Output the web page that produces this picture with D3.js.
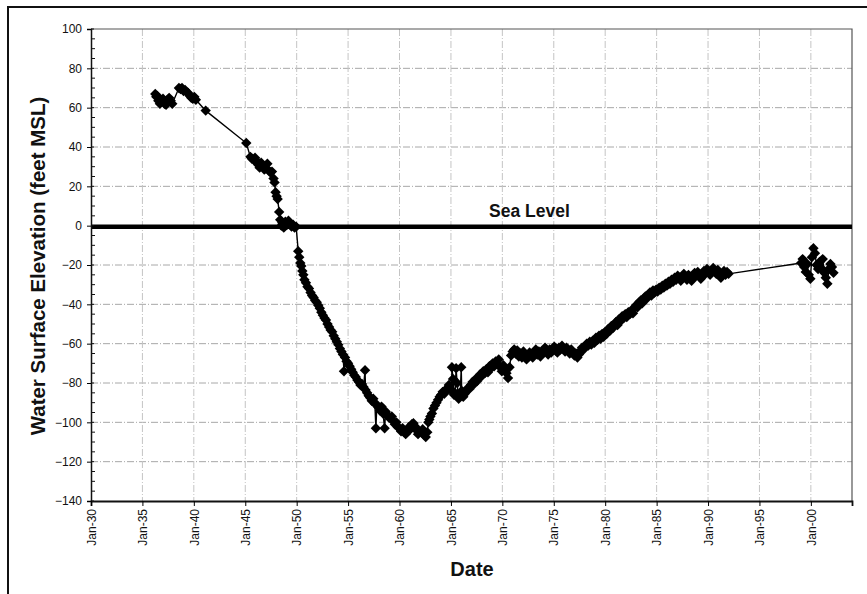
<!DOCTYPE html>
<html>
<head>
<meta charset="utf-8">
<script src="https://cdn.jsdelivr.net/npm/d3@7"></script>
<style>
  body { margin: 0; background: #fff; }
  svg { display: block; font-family: "Liberation Sans", Arial, sans-serif; }
</style>
</head>
<body>
<svg id="chart" width="867" height="594"></svg>
<script>
// water level readings: [decimal year, feet MSL]
var wells1936 = [
  [1936.25, 67], [1936.35, 65.5], [1936.45, 66], [1936.55, 63.5], [1936.7, 62], [1936.85, 63],
  [1937.0, 64.5], [1937.15, 62], [1937.3, 61.5], [1937.45, 64], [1937.6, 65], [1937.75, 63.5],
  [1937.9, 62], [1938.55, 70], [1938.7, 69.5], [1938.85, 70], [1939.0, 68.5], [1939.15, 69],
  [1939.3, 68], [1939.45, 67.5], [1939.6, 66], [1939.75, 65], [1939.9, 64.5], [1940.05, 65.5],
  [1940.2, 64], [1941.15, 58.5]
];
var wells1945 = [
  [1945.1, 42], [1945.5, 35], [1945.65, 34], [1945.8, 33.5], [1945.95, 34.5], [1946.1, 33],
  [1946.25, 31], [1946.4, 29.5], [1946.55, 32], [1946.7, 30], [1946.85, 28.5], [1947.0, 29],
  [1947.15, 31.5], [1947.3, 28], [1947.45, 27], [1947.6, 27.5], [1947.75, 24], [1947.85, 22],
  [1947.95, 17], [1948.05, 15], [1948.15, 13.5], [1948.3, 7], [1948.4, 3], [1948.5, 0],
  [1948.6, 1.5], [1948.75, -1], [1948.9, 2], [1949.05, 0.5], [1949.2, 2.5], [1949.35, 1],
  [1949.5, -0.5], [1949.65, 0.5], [1949.8, -1], [1949.95, -0.5]
];
var wells1950 = [
  [1950.15, -13], [1950.25, -16], [1950.35, -19], [1950.45, -20.5], [1950.55, -23], [1950.65, -25],
  [1950.75, -27.5], [1950.9, -29], [1951.05, -31], [1951.2, -32], [1951.35, -34], [1951.5, -35.5],
  [1951.65, -36.5], [1951.8, -38], [1951.95, -39], [1952.1, -40.5], [1952.25, -42], [1952.4, -44],
  [1952.55, -45.5], [1952.7, -47], [1952.85, -48], [1953.0, -50], [1953.15, -51.5], [1953.3, -53],
  [1953.45, -54], [1953.6, -56], [1953.75, -57.5], [1953.9, -59], [1954.05, -60.5], [1954.2, -62.5],
  [1954.35, -64], [1954.5, -65.5], [1954.6, -74], [1954.7, -67], [1954.85, -69], [1955.0, -70],
  [1955.15, -71.5], [1955.3, -73], [1955.45, -74.5], [1955.6, -76], [1955.75, -77], [1955.9, -78.5],
  [1956.05, -79.5], [1956.2, -81], [1956.35, -80.5], [1956.5, -82], [1956.65, -73.5], [1956.7, -83.5],
  [1956.85, -85], [1957.0, -86.5], [1957.15, -87.5], [1957.3, -89], [1957.45, -88], [1957.6, -90.5],
  [1957.7, -103], [1957.8, -91], [1957.95, -92.5], [1958.1, -94], [1958.25, -92], [1958.4, -95.5],
  [1958.55, -103], [1958.65, -94.5], [1958.8, -96], [1958.95, -97.5], [1959.1, -98], [1959.25, -97],
  [1959.4, -99.5], [1959.55, -101], [1959.7, -100], [1959.85, -102.5], [1960.0, -103], [1960.15, -104.5],
  [1960.3, -103], [1960.45, -105], [1960.6, -106], [1960.75, -104], [1960.9, -102.5], [1961.05, -103.5],
  [1961.2, -101], [1961.35, -100.5], [1961.5, -102], [1961.65, -104], [1961.8, -106], [1961.95, -104.5],
  [1962.1, -105], [1962.25, -103.5], [1962.4, -106.5], [1962.55, -107.5], [1962.7, -105], [1962.8, -100]
];
var wells1963 = [
  [1962.9, -98.5], [1963.0, -97], [1963.15, -95.5], [1963.3, -93], [1963.45, -91.5], [1963.6, -90],
  [1963.75, -88.5], [1963.9, -87], [1964.05, -86], [1964.2, -84.5], [1964.35, -85.5], [1964.5, -84],
  [1964.65, -82.5], [1964.8, -81], [1964.95, -83], [1965.05, -84], [1965.1, -72], [1965.2, -78],
  [1965.3, -86], [1965.4, -85], [1965.5, -72.5], [1965.6, -80], [1965.75, -88], [1965.9, -86.5],
  [1966.0, -72], [1966.05, -84], [1966.2, -87], [1966.35, -85.5], [1966.5, -84], [1966.65, -82.5],
  [1966.8, -83], [1966.95, -81], [1967.1, -79.5], [1967.25, -80.5], [1967.4, -78], [1967.55, -79],
  [1967.7, -77], [1967.85, -75.5], [1968.0, -76.5], [1968.15, -74], [1968.3, -75], [1968.45, -73],
  [1968.6, -74.5], [1968.75, -71.5], [1968.9, -72.5], [1969.05, -70], [1969.2, -71.5], [1969.35, -69],
  [1969.5, -70.5], [1969.65, -68], [1969.8, -72], [1969.95, -74], [1970.1, -71], [1970.25, -73.5],
  [1970.4, -75], [1970.55, -77.5], [1970.7, -72], [1970.85, -66], [1971.0, -64], [1971.15, -63],
  [1971.3, -65], [1971.45, -63.5], [1971.6, -66.5], [1971.75, -65], [1971.9, -67], [1972.05, -64],
  [1972.2, -66], [1972.35, -68], [1972.5, -66.5], [1972.65, -64.5], [1972.8, -65.5], [1972.95, -67],
  [1973.1, -65], [1973.25, -63], [1973.4, -65.5], [1973.55, -64], [1973.7, -66.5], [1973.85, -65],
  [1974.0, -63.5], [1974.15, -62], [1974.3, -64], [1974.45, -65.5], [1974.6, -63], [1974.75, -64.5],
  [1974.9, -62.5], [1975.05, -61.5], [1975.2, -63.5], [1975.35, -64.5], [1975.5, -62], [1975.65, -63],
  [1975.8, -61], [1975.95, -62.5], [1976.1, -64], [1976.25, -62], [1976.4, -63.5], [1976.55, -65],
  [1976.7, -63], [1976.85, -64.5], [1977.0, -66], [1977.15, -65], [1977.3, -67], [1977.45, -65.5],
  [1977.6, -63.5], [1977.75, -62], [1977.9, -63], [1978.05, -61.5], [1978.2, -60], [1978.35, -61],
  [1978.5, -59], [1978.65, -60.5], [1978.8, -58.5], [1978.95, -59.5], [1979.1, -57], [1979.25, -58],
  [1979.4, -56], [1979.55, -57.5], [1979.7, -55], [1979.85, -56.5]
];
var wells1980 = [
  [1980.0, -54], [1980.15, -55], [1980.3, -52.5], [1980.45, -53.5], [1980.6, -51], [1980.75, -52],
  [1980.9, -50], [1981.05, -49], [1981.2, -50.5], [1981.35, -47.5], [1981.5, -48.5], [1981.65, -46],
  [1981.8, -47], [1981.95, -45], [1982.1, -46.5], [1982.25, -44], [1982.4, -45], [1982.55, -43],
  [1982.7, -44.5], [1982.85, -42], [1983.0, -40.5], [1983.15, -41.5], [1983.3, -39], [1983.45, -38],
  [1983.6, -39.5], [1983.75, -37], [1983.9, -36], [1984.05, -37], [1984.2, -35], [1984.35, -34],
  [1984.5, -35.5], [1984.65, -33], [1984.8, -34], [1984.95, -32.5], [1985.1, -33.5], [1985.25, -31.5],
  [1985.4, -32.5], [1985.55, -30.5], [1985.7, -31.5], [1985.85, -29.5], [1986.0, -30.5], [1986.15, -28.5],
  [1986.3, -29.5], [1986.45, -27.5], [1986.6, -28.5], [1986.75, -26.5], [1986.9, -27.5], [1987.05, -25.5],
  [1987.2, -26.5], [1987.35, -28], [1987.5, -26], [1987.65, -24.5], [1987.8, -26], [1987.95, -27.5],
  [1988.1, -25], [1988.25, -26.5], [1988.4, -28], [1988.55, -26], [1988.7, -24], [1988.85, -25.5],
  [1989.0, -23.5], [1989.15, -25], [1989.3, -27], [1989.45, -25.5], [1989.6, -23], [1989.75, -24.5],
  [1989.9, -22], [1990.05, -23.5], [1990.2, -25], [1990.35, -23], [1990.5, -21.5], [1990.65, -23],
  [1990.8, -24.5], [1990.95, -22.5], [1991.1, -24], [1991.25, -26.5], [1991.4, -24.5], [1991.55, -23],
  [1991.7, -25], [1991.85, -23.5], [1992.0, -24.5]
];
var wells1999 = [
  [1999.05, -19], [1999.2, -17], [1999.35, -21], [1999.5, -23.5], [1999.65, -19.5], [1999.8, -25],
  [1999.95, -27], [2000.1, -16], [2000.25, -11.5], [2000.4, -14], [2000.55, -20], [2000.7, -22],
  [2000.85, -18.5], [2001.0, -21.5], [2001.15, -17], [2001.3, -24], [2001.45, -26.5], [2001.6, -29.5],
  [2001.75, -22], [2001.9, -19.5], [2002.05, -21], [2002.2, -24]
];
var seaLevel = 0;
var yTicks = [-140, -120, -100, -80, -60, -40, -20, 0, 20, 40, 60, 80, 100];
var xStart = 1930, xEnd = 2004;

var allData = [].concat(wells1936, wells1945, wells1950, wells1963, wells1980, wells1999);

// decimal year -> Date
function toDate(t) {
    var yr = Math.floor(t);
    var d = new Date(yr, 0, 1);
    d.setDate(1 + Math.round((t - yr) * 365));
    return d;
}

var plotL = 91, plotR = 852, plotT = 29, plotB = 501;
var svg = d3.select("#chart");

var x = d3.scaleTime().domain([new Date(xStart, 0, 1), new Date(xEnd, 0, 1)]).range([plotL, plotR]);
var y = d3.scaleLinear().domain([-140, 100]).range([plotB, plotT]);

// outer frame
svg.append("rect").attr("x", 8).attr("y", 7).attr("width", 880).attr("height", 620)
    .attr("fill", "none").attr("stroke", "#111").attr("stroke-width", 2);

// grid
var xTicks = d3.timeYear.every(5).range(new Date(xStart, 0, 1), new Date(xEnd, 0, 1));
svg.append("g").selectAll("line").data(yTicks.filter(function (d) { return d > -140 && d < 100; }))
    .enter().append("line")
    .attr("x1", plotL).attr("x2", plotR)
    .attr("y1", function (d) { return y(d); }).attr("y2", function (d) { return y(d); })
    .attr("stroke", "#a8a8a8").attr("stroke-width", 1).attr("stroke-dasharray", "7,2,1,2");
svg.append("g").selectAll("line").data(xTicks.slice(1))
    .enter().append("line")
    .attr("x1", function (d) { return x(d); }).attr("x2", function (d) { return x(d); })
    .attr("y1", plotT).attr("y2", plotB)
    .attr("stroke", "#c4c4c4").attr("stroke-width", 1).attr("stroke-dasharray", "7,2,1,2");

// plot frame top/right
svg.append("path").attr("d", "M" + plotL + "," + plotT + "H" + plotR + "V" + plotB)
    .attr("fill", "none").attr("stroke", "#555").attr("stroke-width", 1.2);

// sea level
svg.append("line").attr("x1", plotL).attr("x2", plotR)
    .attr("y1", y(seaLevel) + 1).attr("y2", y(seaLevel) + 1)
    .attr("stroke", "#000").attr("stroke-width", 4.5);
svg.append("text").attr("x", 489).attr("y", 217).text("Sea Level")
    .attr("font-size", 17.5).attr("font-weight", "bold").attr("fill", "#111");

// y axis
var yAxis = d3.axisLeft(y).tickValues(yTicks).tickSize(4).tickPadding(5);
var gy = svg.append("g").attr("transform", "translate(" + plotL + ",0)").call(yAxis);
gy.selectAll("text").attr("font-size", 12).attr("fill", "#111").attr("font-family", "Liberation Sans, Arial, sans-serif");
gy.select(".domain").attr("stroke", "#111").attr("stroke-width", 1.5);
// minor ticks, inside
svg.append("g").selectAll("line").data(d3.range(-140, 101, 5))
    .enter().append("line")
    .attr("x1", plotL).attr("x2", function (d) { return d % 20 === 0 ? plotL + 3 : plotL + 4; })
    .attr("y1", function (d) { return y(d); }).attr("y2", function (d) { return y(d); })
    .attr("stroke", "#111").attr("stroke-width", 1);

// x axis
var xAxis = d3.axisBottom(x).tickValues(xTicks).tickFormat(d3.timeFormat("%b-%y")).tickSize(5).tickPadding(6);
var gx = svg.append("g").attr("transform", "translate(0," + plotB + ")").call(xAxis);
gx.select(".domain").attr("stroke", "#111").attr("stroke-width", 1.8);
gx.selectAll("text")
    .attr("font-size", 12).attr("fill", "#111").attr("font-family", "Liberation Sans, Arial, sans-serif")
    .attr("transform", "rotate(-90)")
    .attr("text-anchor", "end")
    .attr("x", -8).attr("y", 0).attr("dy", "0.35em");

// axis titles
svg.append("text").attr("transform", "translate(45,266) rotate(-90)")
    .attr("text-anchor", "middle").attr("font-size", 20.5).attr("font-weight", "bold").attr("fill", "#111")
    .text("Water Surface Elevation (feet MSL)");
svg.append("text").attr("x", 472).attr("y", 576)
    .attr("text-anchor", "middle").attr("font-size", 20).attr("font-weight", "bold").attr("fill", "#111")
    .text("Date");

// series line + diamond markers
var line = d3.line().x(function (d) { return x(toDate(d[0])); }).y(function (d) { return y(d[1]); });
svg.append("path").datum(allData).attr("d", line)
    .attr("fill", "none").attr("stroke", "#000").attr("stroke-width", 1.4);

var r = 5.2;
svg.append("g").selectAll("path").data(allData)
    .enter().append("path")
    .attr("d", "M0," + (-r) + "L" + r + ",0L0," + r + "L" + (-r) + ",0Z")
    .attr("transform", function (d) { return "translate(" + x(toDate(d[0])) + "," + y(d[1]) + ")"; })
    .attr("fill", "#000");
</script>
</body>
</html>
